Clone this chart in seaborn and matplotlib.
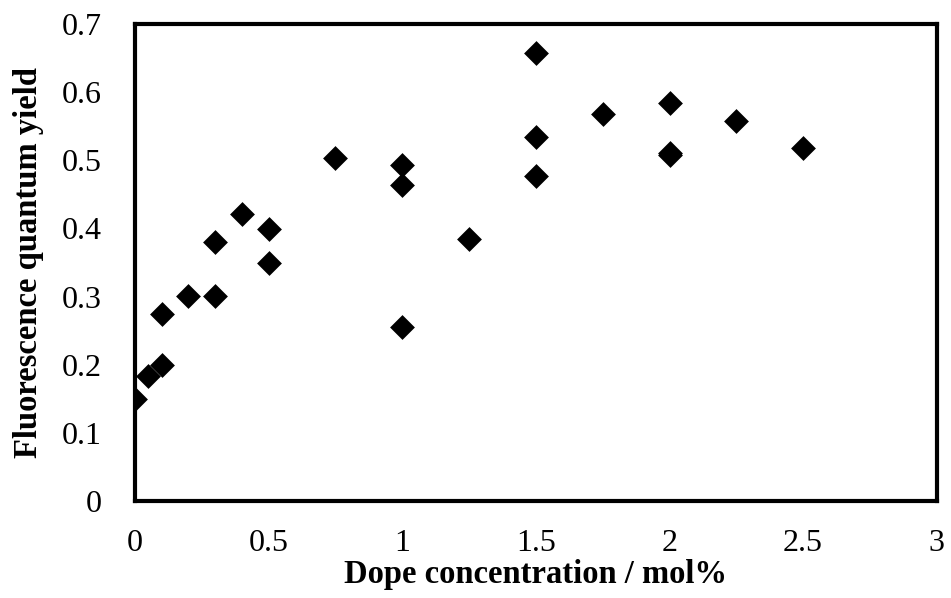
import matplotlib
matplotlib.use("Agg")
import matplotlib.pyplot as plt
import seaborn as sns
import pandas as pd

# Dope concentration (mol%) vs fluorescence quantum yield
conc = [0, 0.05, 0.1, 0.1, 0.2, 0.3, 0.3, 0.4, 0.5, 0.5, 0.75,
        1, 1, 1, 1.25, 1.5, 1.5, 1.5, 1.75, 2, 2, 2, 2.25, 2.5]
qy = [0.150, 0.183, 0.200, 0.275, 0.301, 0.301, 0.380, 0.421, 0.399, 0.349, 0.503,
      0.493, 0.463, 0.255, 0.385, 0.657, 0.534, 0.477, 0.568, 0.584, 0.511, 0.508, 0.558, 0.518]

df = pd.DataFrame({"conc": conc, "qy": qy})

sns.set_style("white")
plt.rcParams["font.family"] = ["Liberation Serif", "DejaVu Serif"]

fig = plt.figure(figsize=(9.51, 5.98), dpi=100)
ax = fig.add_axes([0.142, 0.162, 0.843, 0.798])

sns.scatterplot(x="conc", y="qy", data=df, marker="D", s=160, color="black",
                edgecolor="black", linewidth=0, ax=ax)

ax.set_xlim(0, 3)
ax.set_ylim(0, 0.7)
ax.set_xticks([0, 0.5, 1, 1.5, 2, 2.5, 3])
ax.set_xticklabels(["0", "0.5", "1", "1.5", "2", "2.5", "3"])
ax.set_yticks([0, 0.1, 0.2, 0.3, 0.4, 0.5, 0.6, 0.7])
ax.set_yticklabels(["0", "0.1", "0.2", "0.3", "0.4", "0.5", "0.6", "0.7"])
ax.tick_params(direction="in", length=7, width=3, labelsize=23, colors="black")
ax.tick_params(axis="x", pad=20)
ax.tick_params(axis="y", pad=24)

for sp in ax.spines.values():
    sp.set_linewidth(3)
    sp.set_color("black")
    sp.set_joinstyle("round")

ax.set_xlabel("Dope concentration / mol%", fontsize=23.5, fontweight="bold",
              color="black", labelpad=1)
ax.set_ylabel("Fluorescence quantum yield", fontsize=23.5, fontweight="bold",
              color="black", labelpad=13)

fig.savefig("out.png", dpi=100)
